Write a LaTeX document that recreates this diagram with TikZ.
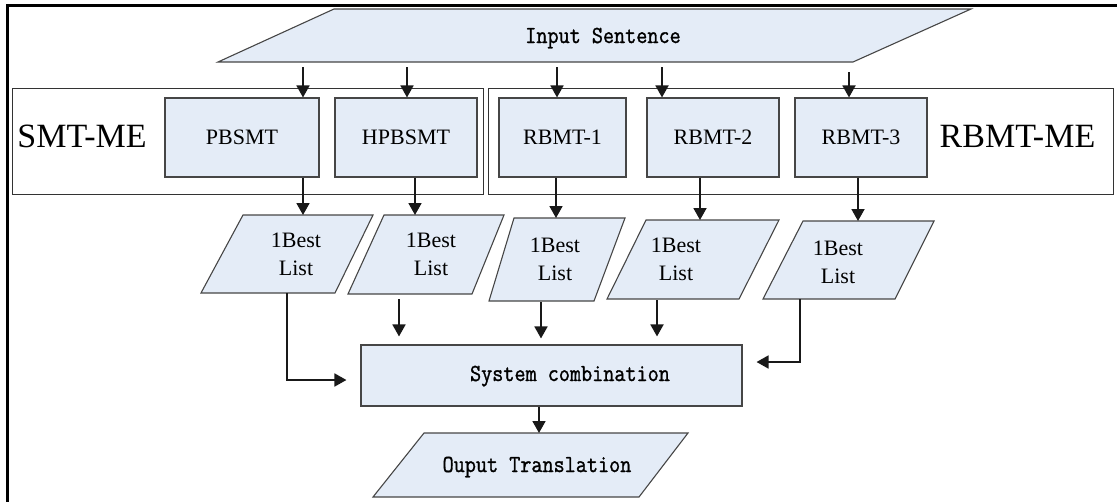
\documentclass[tikz,border=0pt]{standalone}
\usepackage{fontspec}
\setmainfont{Liberation Serif}
\newfontfamily\monofont[FakeStretch=0.88,FakeBold=1.2]{Latin Modern Mono}
\usetikzlibrary{arrows.meta}
\definecolor{boxfill}{RGB}{228,236,247}
\definecolor{boxline}{RGB}{70,70,70}
% parallelogram: name, top-left x, top-right x, bottom-left x, bottom-right x, top y, bottom y
\newcommand{\prlg}[7]{%
  \filldraw[paraline] (#2,#6) -- (#3,#6) -- (#5,#7) -- (#4,#7) -- cycle;
  \node[inner sep=0pt, outer sep=0pt, minimum width=1pt, minimum height={(#7)-(#6)}]
    (#1) at ({((#2)+(#3)+(#4)+(#5))/4},{((#6)+(#7))/2}) {};}
\begin{document}
\begin{tikzpicture}[x=1pt,y=-1pt,
  grp/.style={draw=black!80, line width=1pt, fill=white, inner sep=0pt, rectangle},
  mtbox/.style={draw=boxline, fill=boxfill, line width=1.1pt, inner sep=0pt, rectangle,
    minimum height=79pt, font=\fontsize{22}{26}\selectfont},
  paraline/.style={draw=boxline, fill=boxfill, line width=1.1pt},
  listtxt/.style={align=center, font=\fontsize{22}{28}\selectfont, inner sep=0pt},
  mono/.style={font=\monofont\fontsize{24.5}{30}\selectfont, inner sep=0pt, anchor=base},
  grplabel/.style={font=\fontsize{34}{40}\selectfont, inner sep=0pt},
  arr/.style={line width=1.8pt, draw=black!90, -{Triangle[length=12pt,width=13pt]}}]
\useasboundingbox (0,0) rectangle (1117,501);
% outer frame
\draw[line width=2.5pt] (7.5,510) -- (7.5,5.5) -- (1125,5.5);
% input
\prlg{inp}{334}{971}{218}{853}{9}{62}
\node[mono] (inptxt) at (603,43) {Input Sentence};
% groups
\node[grp, minimum width=471pt, minimum height=106pt] (smtme) at (247.5,141) {};
\node[grp, minimum width=625pt, minimum height=106pt] (rbmtme) at (800.5,141) {};
\node[grplabel] (smtlab) at (82,136) {SMT-ME};
\node[grplabel] (rbmtlab) at (1017.5,136) {RBMT-ME};
% MT boxes
\node[mtbox, minimum width=154pt] (pb) at (242,137.5) {PBSMT};
\node[mtbox, minimum width=142pt] (hpb) at (406,137.5) {HPBSMT};
\node[mtbox, minimum width=127pt] (r1) at (562.5,137.5) {RBMT-1};
\node[mtbox, minimum width=132pt] (r2) at (713,137.5) {RBMT-2};
\node[mtbox, minimum width=132pt] (r3) at (861,137.5) {RBMT-3};
% 1Best lists
\prlg{l1}{243}{373}{201}{335}{215}{293}
\prlg{l2}{384}{504}{348}{472}{215}{294}
\prlg{l3}{514}{625}{489}{594}{218}{301}
\prlg{l4}{646}{779}{607}{739}{220}{299}
\prlg{l5}{803}{934}{763}{895}{221}{299}
\node[listtxt] (t1) at (296,254) {1Best\\List};
\node[listtxt] (t2) at (431,254.5) {1Best\\List};
\node[listtxt] (t3) at (555,259) {1Best\\List};
\node[listtxt] (t4) at (676,259) {1Best\\List};
\node[listtxt] (t5) at (838,262) {1Best\\List};
% system combination
\node[mtbox, minimum width=381pt, minimum height=61pt] (sys) at (551.5,375.5) {};
\node[mono] (systxt) at (570,381) {System combination};
% output
\prlg{out}{424}{688}{373}{639}{433}{497}
\node[mono] (outtxt) at (537,472) {Ouput Translation};
% arrows input -> MT
\draw[arr, shorten <=5pt] (inp.south -| 303,0) -- (pb.north -| 303,0);
\draw[arr, shorten <=5pt] (inp.south -| 407,0) -- (hpb.north -| 407,0);
\draw[arr, shorten <=5pt] (inp.south -| 557,0) -- (r1.north -| 557,0);
\draw[arr, shorten <=5pt] (inp.south -| 662,0) -- (r2.north -| 662,0);
\draw[arr, shorten <=10pt] (inp.south -| 849,0) -- (r3.north -| 849,0);
% MT -> lists
\draw[arr] (pb.south -| 303,0) -- (l1.north -| 303,0);
\draw[arr] (hpb.south -| 415,0) -- (l2.north -| 415,0);
\draw[arr] (r1.south -| 556,0) -- (l3.north -| 556,0);
\draw[arr] (r2.south -| 700,0) -- (l4.north -| 700,0);
\draw[arr] (r3.south -| 858,0) -- (l5.north -| 858,0);
% lists -> system combination
\draw[arr, shorten >=14pt] (l1.south -| 287,0) |- (sys.west |- 0,380);
\draw[arr, shorten <=5pt, shorten >=8pt] (l2.south -| 399,0) -- (sys.north -| 399,0);
\draw[arr, shorten <=1pt, shorten >=6pt] (l3.south -| 541,0) -- (sys.north -| 541,0);
\draw[arr, shorten <=1pt, shorten >=8pt] (l4.south -| 657,0) -- (sys.north -| 657,0);
\draw[arr, shorten >=14pt] (l5.south -| 800,0) |- (sys.east |- 0,362);
% system -> output
\draw[arr] (sys.south -| 539,0) -- (out.north -| 539,0);
\end{tikzpicture}
\end{document}
